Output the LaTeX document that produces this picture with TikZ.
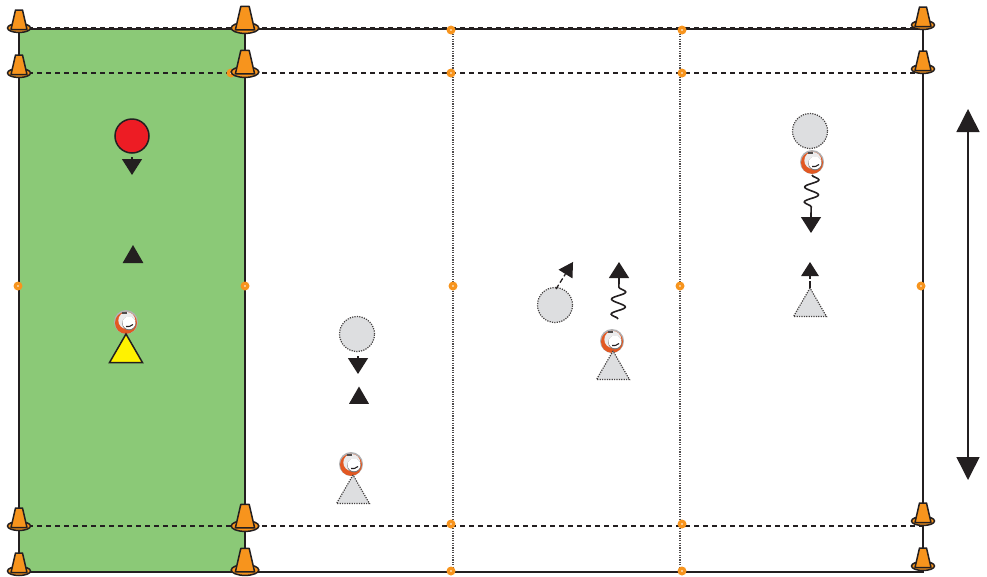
\documentclass[tikz,border=0pt]{standalone}
\usepackage{tikz}
\usetikzlibrary{arrows.meta,shapes.geometric,decorations.pathmorphing,calc}
\definecolor{pitchgreen}{RGB}{139,201,119}
\definecolor{coneorange}{RGB}{247,148,29}
\definecolor{ballorange}{RGB}{226,88,34}
\definecolor{inkblack}{RGB}{35,31,32}
\definecolor{playergray}{RGB}{221,222,224}
\definecolor{playerred}{RGB}{237,28,36}
\definecolor{playeryellow}{RGB}{255,242,0}
\tikzset{
         fieldline/.style={draw=inkblack,line width=1.5pt},
         zoneline/.style={draw=inkblack,line width=1.2pt,dash pattern=on 5pt off 4pt},
         gridline/.style={draw=inkblack!80,line width=1.1pt,dash pattern=on 1.2pt off 1.2pt},
         markerdot/.style={circle,fill=coneorange,inner sep=0pt,minimum size=9pt,
                           append after command={node[circle,fill=white,inner sep=0pt,minimum size=1.6pt] at (\tikzlastnode) {}}},
         redplayer/.style={circle,draw=inkblack,line width=1.5pt,fill=playerred,inner sep=0pt,minimum size=34pt},
         grayplayer/.style={circle,draw=inkblack!85,line width=1.2pt,dash pattern=on 1.2pt off 1.2pt,fill=playergray,inner sep=0pt,minimum size=35pt},
         yellowdefender/.style={regular polygon,regular polygon sides=3,draw=inkblack,line width=1.5pt,fill=playeryellow,inner sep=0pt,minimum size=38pt},
         graydefender/.style={regular polygon,regular polygon sides=3,draw=inkblack!85,line width=1.2pt,dash pattern=on 1.2pt off 1.2pt,fill=playergray,inner sep=0pt,minimum size=38pt},
         passarrow/.style={draw=inkblack,line width=1.3pt,-{Triangle[length=#1,width=#1*1.25]}},
         passarrow/.default=16pt,
         dribblearrow/.style={draw=inkblack,line width=1.6pt,decorate,
                              decoration={snake,segment length=15pt,amplitude=7pt,post length=1pt}},
         headtip/.style={regular polygon,regular polygon sides=3,fill=inkblack,draw=none,inner sep=0pt},
         conemark/.pic={
            \draw[inkblack,line width=1.5pt,fill=coneorange] (0,0) ellipse (11.5pt and 4.5pt); % base
            \draw[inkblack,line width=1.5pt,fill=coneorange,line join=round] (-8,1.5) -- (-3.5,-18) -- (3.5,-18) -- (8,1.5) -- cycle; % body
         },
         ballmark/.pic={
            \fill[playergray!80!black] (0,0) circle (12pt); % leather
            \fill[ballorange] (0,0.8) circle (11pt); % band
            \fill[playergray!60!white] (0.8,-1.5) circle (8.5pt);
            \fill[inkblack!60] (3,1.5) circle (6.8pt); % ring
            \fill[white] (3,0.8) circle (6.4pt); % panel
            \fill[inkblack!80] (-4,-10.5) rectangle (1,-8.5); % print
            \draw[inkblack,line width=1.1pt] (0,4.5) .. controls (2,5) and (5,4.5) .. (7,2.5); % swoosh
         },
        }
\begin{document}
\begin{tikzpicture}[x=1pt,y=-1pt]
    \useasboundingbox (0,0) rectangle (987,576);
    \coordinate (topleft) at (19,29); \coordinate (topmid) at (245,29); \coordinate (topright) at (923,29);
    \coordinate (botleft) at (19,572); \coordinate (botmid) at (245,572); \coordinate (botright) at (923,572);
    \coordinate (upleft) at (19,73); \coordinate (upright) at (923,73);
    \coordinate (lowleft) at (19,526); \coordinate (lowright) at (923,526);
    \coordinate (gridatop) at (453,29); \coordinate (gridabot) at (453,572);
    \coordinate (gridbtop) at (680,29); \coordinate (gridbbot) at (680,572);
    \fill[pitchgreen] (topleft) rectangle (botmid); % Green zone
    \draw[gridline] (gridatop) -- (gridabot); % Channel line
    \draw[gridline] (gridbtop) -- (gridbbot); % Channel line
    \draw[fieldline] (topleft) rectangle (botright); % Pitch outline
    \draw[fieldline] (topmid) -- (botmid); % Zone edge
    \draw[zoneline] ($(topleft)+(0,-1)$) -- ($(topright)+(0,-1)$); % Top dashes
    \draw[zoneline] (upleft) -- (upright); % Upper dashes
    \draw[zoneline] (lowleft) -- (lowright); % Lower dashes
    \draw[zoneline] (botleft) -- (botright); % Bottom dashes
    \foreach \px/\py in {451/30,682/30,231/73,451/73,682/73,18/286,245/286,453/286,680/286,921/286,451/524,682/524,451/571,682/571}
        \node[markerdot] at (\px,\py) {}; % Orange markers
    \foreach \px/\py/\cs in {19/28/1,245/28/1.2,923/25/1,19/73/1,245/72/1.2,923/69/1,19/526/1,245/526/1.2,923/521/1,19/571/1,245/570/1.2,923/566/1}
        \pic[scale=\cs] at (\px,\py) {conemark}; % Cones

    \node[redplayer] (red) at (132,136) {}; % Red player
    \coordinate (redstart) at (132,157); \coordinate (redend) at (132,175);
    \draw[passarrow] (redstart) -- (redend);
    \node[headtip,minimum size=24pt] (uptipa) at (133,257) {}; % Reply tip
    \pic at (126,322) {ballmark};
    \node[yellowdefender] (yellow) at (126,353) {}; % Yellow player

    \node[grayplayer] (graya) at (357,334) {}; % Second zone
    \coordinate (grayastart) at (358,356); \coordinate (grayaend) at (358,374);
    \draw[passarrow] (grayastart) -- (grayaend);
    \node[headtip,minimum size=23pt] (uptipb) at (359,398) {};
    \pic at (351,464) {ballmark};
    \node[graydefender] (graytria) at (353,494) {};

    \node[grayplayer] (grayb) at (555,305) {}; % Third zone
    \coordinate (graybstart) at (556,289);
    \node[headtip,minimum size=19pt,rotate=-32] (graybtip) at (568,270) {};
    \draw[draw=inkblack,line width=1.3pt,dash pattern=on 5pt off 2.5pt] (graybstart) -- (graybtip);
    \coordinate (dribbleastart) at (618,319); \coordinate (dribbleaend) at (619,282); \coordinate (dribbleatip) at (619,262);
    \draw[dribblearrow] (dribbleastart) -- (dribbleaend);
    \draw[passarrow] (dribbleaend) -- (dribbleatip);
    \pic at (612,341) {ballmark};
    \node[graydefender] (graytrib) at (613,370) {};

    \node[grayplayer] (grayc) at (810,131) {}; % Fourth zone
    \coordinate (dribblebstart) at (812,175); \coordinate (dribblebend) at (811,214); \coordinate (dribblebtip) at (811,233);
    \draw[dribblearrow] (dribblebstart) -- (dribblebend);
    \draw[passarrow] (dribblebend) -- (dribblebtip);
    \pic at (812,162) {ballmark};
    \node[graydefender] (graytric) at (810,307) {};
    \coordinate (smallstart) at (810,288); \coordinate (smallend) at (810,262);
    \draw[passarrow=14pt,dash pattern=on 7pt off 2pt] (smallstart) -- (smallend);

    \coordinate (spantop) at (968,109); \coordinate (spanbot) at (968,480);
    \draw[draw=inkblack,line width=1.5pt,{Triangle[length=23pt,width=23pt]}-{Triangle[length=23pt,width=23pt]}] (spantop) -- (spanbot); % Width arrow
\end{tikzpicture}
\end{document}
